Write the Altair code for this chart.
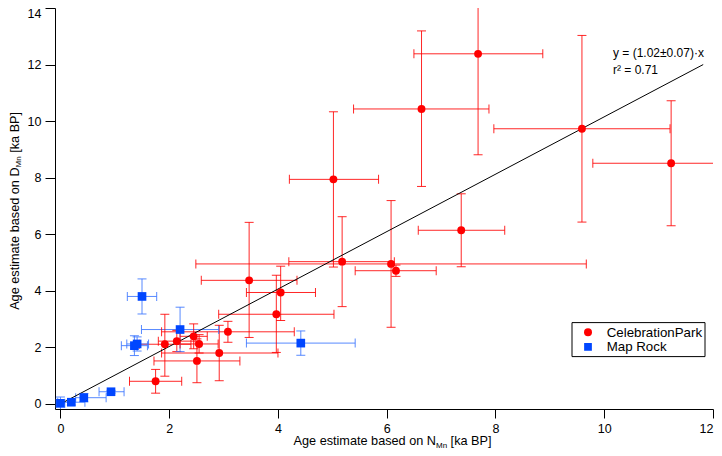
import altair as alt
import pandas as pd

FONT = "Liberation Sans"
sites = ["CelebrationPark", "Map Rock"]
point_colors = ["#ff0000", "#0046ff"]
bar_colors = ["#ff0000", "#3a74ff"]

# CelebrationPark: value, error-bar ends
cp_x   = [1.75, 1.92, 2.14, 2.45, 2.55, 2.51, 2.92, 3.08, 3.47, 3.97, 4.05, 5.02, 5.18, 6.08, 6.17, 7.37, 6.64, 7.68, 9.59, 11.23]
cp_y   = [0.80, 2.11, 2.22, 2.39, 2.12, 1.52, 1.80, 2.55, 4.37, 3.17, 3.94, 7.94, 5.03, 4.95, 4.71, 6.14, 10.43, 12.38, 9.73, 8.51]
cp_xlo = [1.27, 1.45, 1.80, 2.20, 2.20, 1.72, 1.86, 1.86, 2.59, 2.91, 3.42, 4.21, 4.20, 2.49, 5.42, 6.58, 5.39, 6.50, 7.97, 9.79]
cp_xhi = [2.23, 2.40, 2.48, 2.70, 2.90, 3.30, 4.00, 4.30, 4.35, 5.03, 4.69, 5.85, 6.14, 9.67, 6.91, 8.17, 7.88, 8.87, 11.21, 12.67]
cp_ylo = [0.38, 0.98, 1.85, 1.95, 1.80, 0.75, 0.82, 2.18, 2.35, 1.82, 2.95, 4.84, 3.44, 2.71, 4.51, 4.85, 7.69, 8.81, 6.43, 6.30]
cp_yhi = [1.22, 3.17, 2.60, 2.83, 2.45, 2.30, 2.78, 2.92, 6.42, 4.55, 4.87, 10.33, 6.62, 7.19, 4.91, 7.43, 13.19, 15.95, 13.03, 10.72]

# Map Rock
mr_x   = [0.00, 0.20, 0.43, 0.93, 1.36, 1.41, 1.50, 2.20, 4.42]
mr_y   = [0.02, 0.06, 0.22, 0.43, 2.06, 2.12, 3.80, 2.63, 2.15]
mr_xlo = [-0.08, -0.05, 0.28, 0.71, 1.12, 1.22, 1.23, 1.49, 3.42]
mr_xhi = [0.08, 0.45, 0.84, 1.17, 1.60, 1.62, 1.77, 2.91, 5.42]
mr_ylo = [-0.20, -0.04, 0.07, 0.38, 1.71, 1.87, 3.18, 1.85, 1.72]
mr_yhi = [0.24, 0.16, 0.37, 0.48, 2.41, 2.37, 4.42, 3.42, 2.58]

# fitted line end points
fit_x = [0.0, 11.82]
fit_y = [0.0, 12.0]

x_ticks = [0, 2, 4, 6, 8, 10, 12]
y_ticks = [0, 2, 4, 6, 8, 10, 12, 14]

cp = pd.DataFrame({"x": cp_x, "y": cp_y, "xlo": cp_xlo, "xhi": cp_xhi,
                   "ylo": cp_ylo, "yhi": cp_yhi, "site": sites[0]})
mr = pd.DataFrame({"x": mr_x, "y": mr_y, "xlo": mr_xlo, "xhi": mr_xhi,
                   "ylo": mr_ylo, "yhi": mr_yhi, "site": sites[1]})
df = pd.concat([cp, mr], ignore_index=True)
fit = pd.DataFrame({"x": fit_x, "y": fit_y})

xs = alt.Scale(domain=[-0.1, 12], nice=False, zero=False)
ys = alt.Scale(domain=[-0.18, 14], nice=False, zero=False)

axis_common = dict(title=None, grid=False, tickColor="black",
                   domainColor="black", labelColor="black", labelFont=FONT,
                   labelFontSize=12.5, labelFlush=False,
                   tickWidth=1, domainWidth=1)
x_axis = alt.Axis(values=x_ticks, tickSize=9, labelPadding=4,
                  labelAlign={"condition": {"test": "datum.value === 12", "value": "right"},
                              "value": "center"},
                  **axis_common)
y_axis = alt.Axis(values=y_ticks, tickSize=10, labelPadding=4,
                  labelOffset={"condition": {"test": "datum.value === 14", "value": 5}, "value": 0},
                  **axis_common)


def X(f):
    return alt.X(f, type="quantitative", scale=xs, axis=x_axis)


def Y(f):
    return alt.Y(f, type="quantitative", scale=ys, axis=y_axis)


bar_color = alt.Color("site:N", scale=alt.Scale(domain=sites, range=bar_colors), legend=None)

base = alt.Chart(df)
hbar = base.mark_rule(strokeWidth=1, opacity=0.85, clip=True).encode(
    x=X("xlo"), x2="xhi", y=Y("y"), color=bar_color)
vbar = base.mark_rule(strokeWidth=1, opacity=0.85, clip=True).encode(
    x=X("x"), y=Y("ylo"), y2="yhi", color=bar_color)
cap1 = base.mark_tick(orient="vertical", size=9, thickness=1, opacity=0.85, clip=True).encode(
    x=X("xlo"), y=Y("y"), color=bar_color)
cap2 = base.mark_tick(orient="vertical", size=9, thickness=1, opacity=0.85, clip=True).encode(
    x=X("xhi"), y=Y("y"), color=bar_color)
cap3 = base.mark_tick(orient="horizontal", size=9, thickness=1, opacity=0.85, clip=True).encode(
    x=X("x"), y=Y("ylo"), color=bar_color)
cap4 = base.mark_tick(orient="horizontal", size=9, thickness=1, opacity=0.85, clip=True).encode(
    x=X("x"), y=Y("yhi"), color=bar_color)

line = alt.Chart(fit).mark_line(color="black", strokeWidth=1).encode(x=X("x"), y=Y("y"))

pts = base.mark_point(filled=True, opacity=1, strokeWidth=0).encode(
    x=X("x"), y=Y("y"),
    color=alt.Color("site:N", scale=alt.Scale(domain=sites, range=point_colors), legend=None),
    shape=alt.Shape("site:N", scale=alt.Scale(domain=sites, range=["circle", "square"]), legend=None),
    size=alt.Size("site:N", scale=alt.Scale(domain=sites, range=[62, 75]), legend=None),
)


def one(v):
    return alt.Chart(pd.DataFrame({"t": [v]}))


def txt(s, x, y, size, align="left", angle=0, dy=0, baseline="alphabetic"):
    return one(s).mark_text(
        align=align, baseline=baseline, font=FONT, fontSize=size, color="black",
        angle=angle, dy=dy).encode(x=alt.value(x), y=alt.value(y), text="t:N")


ann1 = txt("y = (1.02±0.07)·x", 558, 48.5, 12)
ann2 = txt("r² = 0.71", 558, 65.5, 12)

# x-axis title with subscript
xt_a = txt("Age estimate based on N", 381, 437, 12.7, align="right")
xt_b = txt("Mn", 381, 437, 8, align="left", dy=2.5)
xt_c = txt("[ka BP]", 395.6, 437, 12.7, align="left")

# y-axis title with subscript (rotated)
yt_a = txt("Age estimate based on D", -36.5, 159.4, 12.7, align="right", angle=270)
yt_b = txt("Mn", -36.5, 159.4, 8, align="left", angle=270, dy=2.5)
yt_c = txt("[ka BP]", -36.5, 144.8, 12.7, align="left", angle=270)

# legend box
leg_box = one(0).mark_rect(fill="white", stroke="black", strokeWidth=1).encode(
    x=alt.value(517), x2=alt.value(650), y=alt.value(314.6), y2=alt.value(348.6))
leg_s1 = one(0).mark_point(filled=True, shape="circle", size=64, opacity=1,
                           color=point_colors[0]).encode(x=alt.value(533), y=alt.value(324.3))
leg_s2 = one(0).mark_point(filled=True, shape="square", size=60, opacity=1,
                           color=point_colors[1]).encode(x=alt.value(533), y=alt.value(338.9))
leg_t1 = txt(sites[0], 551.7, 324.6, 13.3, baseline="middle")
leg_t2 = txt(sites[1], 551.7, 339.2, 13.3, baseline="middle")

chart = alt.layer(
    hbar, vbar, cap1, cap2, cap3, cap4, line, pts,
    ann1, ann2, xt_a, xt_b, xt_c, yt_a, yt_b, yt_c,
    leg_box, leg_s1, leg_s2, leg_t1, leg_t2
).resolve_scale(color="independent").properties(
    width=658, height=401,
    autosize=alt.AutoSizeParams(type="none"),
    padding={"left": 47, "top": 0, "right": 1, "bottom": 39},
).configure_view(stroke=None)

chart.save("out.html", embed_options={"renderer": "svg", "actions": False})
